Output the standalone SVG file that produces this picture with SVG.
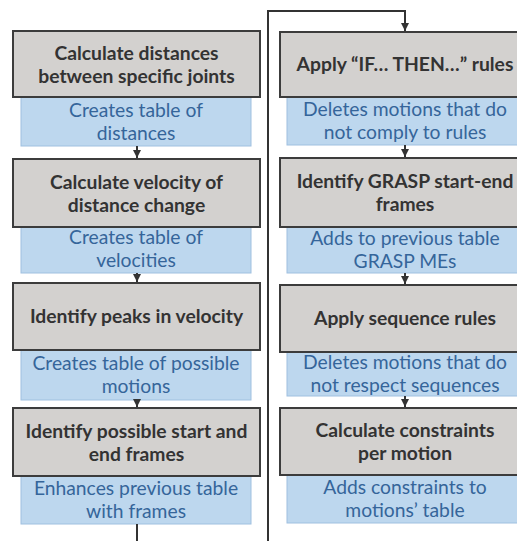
<svg xmlns="http://www.w3.org/2000/svg" width="517" height="541" viewBox="0 0 517 541">
  <style>
    .step { fill: #d3d1cf; stroke: #3c3c3c; stroke-width: 2; }
    .out { fill: #bdd7ee; stroke: #9fc0e0; stroke-width: 1; }
    .t-step { font-family: Lato, "Open Sans", sans-serif; font-weight: bold; font-size: 19.3px; fill: #333333; text-anchor: middle; }
    .t-out { font-family: Lato, "Open Sans", sans-serif; font-size: 19.3px; fill: #35659a; text-anchor: middle; }
    .wire { fill: none; stroke: #333333; stroke-width: 2; }
  </style>
  <defs>
    <marker id="arrow" viewBox="0 0 8 8" refX="8" refY="4" markerWidth="4" markerHeight="4" orient="auto" markerUnits="strokeWidth">
      <path d="M0,0 L8,4 L0,8 Z" fill="#333333"/>
    </marker>
  </defs>
  <rect width="517" height="541" fill="#ffffff"/>

  <!-- Left column -->
  <g id="left-1">
    <rect class="out" x="21" y="97" width="230" height="49"/>
    <rect class="step" x="13" y="31" width="247" height="66"/>
    <text class="t-step" x="136.5" y="60">Calculate distances</text>
    <text class="t-step" x="136.5" y="83">between specific joints</text>
    <text class="t-out" x="136" y="117">Creates table of</text>
    <text class="t-out" x="136" y="140">distances</text>
  </g>
  <g id="left-2">
    <rect class="out" x="21" y="227" width="230" height="46"/>
    <rect class="step" x="13" y="159" width="247" height="68"/>
    <text class="t-step" x="136.5" y="189">Calculate velocity of</text>
    <text class="t-step" x="136.5" y="212">distance change</text>
    <text class="t-out" x="136" y="244">Creates table of</text>
    <text class="t-out" x="136" y="267">velocities</text>
  </g>
  <g id="left-3">
    <rect class="out" x="21" y="350" width="230" height="50"/>
    <rect class="step" x="13" y="283" width="247" height="67"/>
    <text class="t-step" x="136.5" y="323">Identify peaks in velocity</text>
    <text class="t-out" x="136" y="370">Creates table of possible</text>
    <text class="t-out" x="136" y="393">motions</text>
  </g>
  <g id="left-4">
    <rect class="out" x="21" y="476" width="230" height="48"/>
    <rect class="step" x="13" y="408" width="247" height="68"/>
    <text class="t-step" x="136.5" y="438">Identify possible start and</text>
    <text class="t-step" x="136.5" y="461">end frames</text>
    <text class="t-out" x="136" y="495">Enhances previous table</text>
    <text class="t-out" x="136" y="518">with frames</text>
  </g>

  <!-- Right column -->
  <g id="right-1">
    <rect class="out" x="287" y="97" width="236" height="48"/>
    <rect class="step" x="280" y="32" width="250" height="65"/>
    <text class="t-step" x="405" y="71">Apply “IF… THEN…” rules</text>
    <text class="t-out" x="405" y="116">Deletes motions that do</text>
    <text class="t-out" x="405" y="139">not comply to rules</text>
  </g>
  <g id="right-2">
    <rect class="out" x="287" y="227" width="236" height="46"/>
    <rect class="step" x="280" y="158" width="250" height="69"/>
    <text class="t-step" x="405" y="188">Identify GRASP start-end</text>
    <text class="t-step" x="405" y="211">frames</text>
    <text class="t-out" x="405" y="245">Adds to previous table</text>
    <text class="t-out" x="405" y="268">GRASP MEs</text>
  </g>
  <g id="right-3">
    <rect class="out" x="287" y="352" width="236" height="44"/>
    <rect class="step" x="280" y="285" width="250" height="67"/>
    <text class="t-step" x="405" y="325">Apply sequence rules</text>
    <text class="t-out" x="405" y="369">Deletes motions that do</text>
    <text class="t-out" x="405" y="392">not respect sequences</text>
  </g>
  <g id="right-4">
    <rect class="out" x="287" y="475" width="236" height="48"/>
    <rect class="step" x="280" y="408" width="250" height="67"/>
    <text class="t-step" x="405" y="437">Calculate constraints</text>
    <text class="t-step" x="405" y="460">per motion</text>
    <text class="t-out" x="405" y="494">Adds constraints to</text>
    <text class="t-out" x="405" y="517">motions’ table</text>
  </g>

  <!-- Connectors -->
  <g id="connectors">
    <line class="wire" x1="137" y1="146" x2="137" y2="158" marker-end="url(#arrow)"/>
    <line class="wire" x1="137" y1="273" x2="137" y2="282" marker-end="url(#arrow)"/>
    <line class="wire" x1="137" y1="400" x2="137" y2="407" marker-end="url(#arrow)"/>
    <line class="wire" x1="137" y1="524" x2="137" y2="541"/>
    <path class="wire" d="M268,541 V11 H405 V31" marker-end="url(#arrow)"/>
    <line class="wire" x1="405" y1="145" x2="405" y2="157" marker-end="url(#arrow)"/>
    <line class="wire" x1="405" y1="273" x2="405" y2="284" marker-end="url(#arrow)"/>
    <line class="wire" x1="405" y1="396" x2="405" y2="407" marker-end="url(#arrow)"/>
  </g>
</svg>
